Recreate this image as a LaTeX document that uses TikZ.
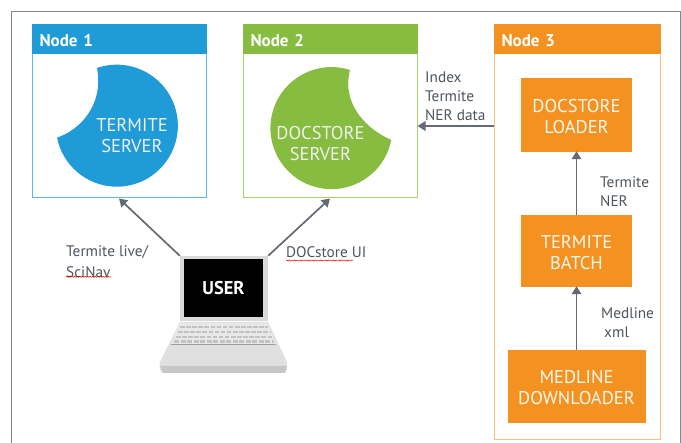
\documentclass[tikz,border=0pt]{standalone}
\usepackage{fontspec}
\setmainfont{PT Sans}
\usetikzlibrary{arrows.meta,decorations.pathmorphing}
\definecolor{bluehd}{HTML}{1F9BD7}
\definecolor{blueln}{HTML}{55BDEE}
\definecolor{greenhd}{HTML}{86BC3F}
\definecolor{greenln}{HTML}{A6D26C}
\definecolor{orangehd}{HTML}{F39220}
\definecolor{orangeln}{HTML}{FBC07A}
\definecolor{arrowgr}{HTML}{646B75}
\definecolor{labelgr}{HTML}{4F555E}
\definecolor{framegr}{HTML}{85878A}
\tikzset{
  nodebox/.style={draw=#1,line width=1pt,fill=white,inner sep=0pt},
  header/.style={fill=#1,draw=#1,line width=.6pt,anchor=north,minimum height=29pt,text width=158pt,
    text height=15pt,text depth=0pt,inner xsep=7.5pt,inner ysep=0pt,align=left,text=white,font=\fontsize{17}{20}\selectfont\bfseries},
  procbox/.style={fill=orangehd,inner sep=0pt,text=white!94!orange,align=center,font=\fontsize{18.5}{21}\selectfont},
  circletext/.style={inner sep=0pt,text=white!94!black,align=center,font=\fontsize{18.5}{21}\selectfont},
  lbl/.style={inner sep=0pt,anchor=west,text=labelgr,font=\fontsize{15.3}{19}\selectfont,align=left},
  arr/.style={draw=arrowgr,line width=1.7pt,-{Triangle[length=8pt,width=9.5pt]}},
  wavy/.style={draw=red!85!black,line width=.45pt,decorate,decoration={snake,segment length=2.6pt,amplitude=.6pt}},
}
\begin{document}
\begin{tikzpicture}[x=1pt,y=-1pt]
\useasboundingbox (0,0) rectangle (681,443);
\fill[white] (0,0) rectangle (681,443);
% outer frame (open at the bottom edge)
\draw[framegr,line width=1pt] (11.5,443) -- (11.5,12) -- (680,12) -- (680,443);

% Node 1
\node[nodebox=blueln,minimum width=174pt,minimum height=173pt] (node1) at (119,111.5) {};
\node[header=bluehd,text width=159pt] (head1) at (node1.north) {Node 1};
\fill[bluehd] (97,68) arc[start angle=251,end angle=528.7,radius=61]
  .. controls (80,130) and (104,105) .. (97,68) -- cycle;
\node[circletext] (termsrv) at (132,136) {TERMITE\\SERVER};

% Node 2
\node[nodebox=greenln,minimum width=174pt,minimum height=173pt] (node2) at (330,111.5) {};
\node[header=greenhd,text width=159pt] (head2) at (node2.north) {Node 2};
\fill[greenhd] (350,70) arc[start angle=287.7,end angle=11.2,radius=61]
  .. controls (368,130) and (341,105) .. (350,70) -- cycle;
\node[circletext] (docsrv) at (320.5,143.5) {DOCSTORE\\SERVER};
\coordinate (gc) at (332,126);

% Node 3
\node[nodebox=orangeln,minimum width=166pt,minimum height=415pt] (node3) at (577,232.5) {};
\node[header=orangehd,text width=151pt] (head3) at (node3.north) {Node 3};
\node[procbox,minimum width=111pt,minimum height=74pt] (loader) at (576.5,115) {\rule{0pt}{17pt}DOCSTORE\\LOADER};
\node[procbox,minimum width=111pt,minimum height=72pt] (batch) at (576.5,251) {\rule{0pt}{16pt}TERMITE\\BATCH};
\node[procbox,minimum width=138pt,minimum height=73pt] (medline) at (576.5,386.5) {\rule{0pt}{15pt}MEDLINE\\DOWNLOADER};

% Laptop
\fill[black!12] (180,322) -- (268,322) -- (287,362) .. controls (288,368) and (286,372) .. (284,373)
  -- (163,373) .. controls (160,372) and (159,368) .. (160,362) -- cycle;
\fill[black!22] (160,366) -- (287,366) -- (285,373) -- (163,373) -- cycle;
\fill[black!9] (180,323) -- (268,323) -- (276,344) -- (171,344) -- cycle;
\foreach \r/\yy/\xa/\xb in {0/327/180/268,1/332/178/270,2/337/176/272}
  \draw[black!24,line width=2.4pt,dash pattern=on 4.6pt off 1.5pt] (\xa,\yy) -- (\xb,\yy);
\draw[black!24,line width=2.4pt,dash pattern=on 5pt off 1.5pt] (174,341.5) -- (274,341.5);
\draw[black!38,line width=.8pt] (171,344) -- (276,344);
\node[fill=black!15,inner sep=0pt,minimum width=88pt,minimum height=65pt] (lid) at (224,288.5) {};
\node[fill=black,inner sep=0pt,minimum width=79pt,minimum height=58pt,text=white,
  font=\fontsize{18.5}{21}\selectfont\bfseries] (screen) at (223.5,288.5) {USER};

% Connectors
\draw[arr] (lid.north west) -- (node1.south);
\draw[arr] (lid.north east) -- (node2.south);
\draw[arr] (node3.west |- gc) -- (node2.east |- gc);
\draw[arr] (batch.north) -- ([yshift=1pt]loader.south);
\draw[arr] (medline.north) -- ([yshift=1pt]batch.south);

% Labels
\node[lbl] (l1) at (66,252) {Termite live/};
\node[lbl] (l2) at (66,272) {SciNav};
\draw[wavy] ([yshift=1pt]l2.south west) -- ([yshift=1pt]l2.south east);
\node[lbl] (l3) at (286,252) {DOCstore UI};
\draw[wavy] (286,260.5) -- (353,260.5);
\node[lbl] (l4) at (425,96) {Index\\Termite\\NER data};
\node[lbl] (l5) at (600,192) {Termite\\NER};
\node[lbl] (l6) at (601,313) {Medline};
\node[lbl] (l7) at (604,332) {xml};
\end{tikzpicture}
\end{document}
